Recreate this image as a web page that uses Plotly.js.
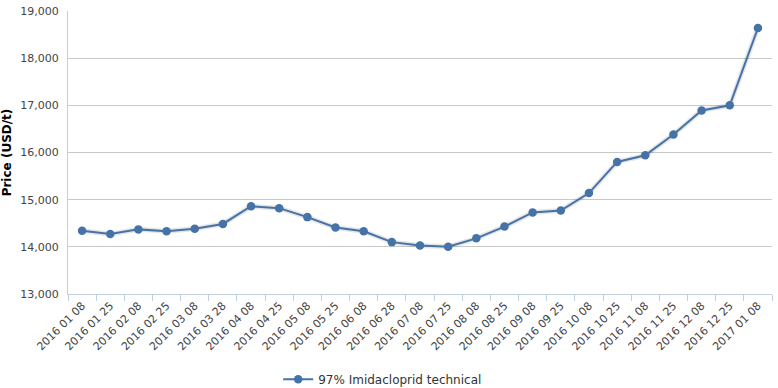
<!DOCTYPE html>
<html>
<head>
<meta charset="utf-8">
<script src="https://cdn.plot.ly/plotly-3.0.1.min.js"></script>
<style>html,body{margin:0;padding:0;background:#fff;}#chart{width:778px;height:388px;}</style>
</head>
<body>
<div id="chart"></div>
<script>
const categories = ["2016 01 08","2016 01 25","2016 02 08","2016 02 25","2016 03 08","2016 03 28","2016 04 08","2016 04 25","2016 05 08","2016 05 25","2016 06 08","2016 06 28","2016 07 08","2016 07 25","2016 08 08","2016 08 25","2016 09 08","2016 09 25","2016 10 08","2016 10 25","2016 11 08","2016 11 25","2016 12 08","2016 12 25","2017 01 08"];
const prices = [14340,14270,14370,14330,14385,14485,14860,14820,14630,14410,14330,14100,14030,14000,14180,14430,14730,14770,15140,15800,15940,16380,16890,17000,18640];
const seriesName = "97% Imidacloprid technical";
const yTicks = [13000,14000,15000,16000,17000,18000,19000];
const yTickText = ["13,000","14,000","15,000","16,000","17,000","18,000","19,000"];

const shadow = {
  x: categories, y: prices, type: "scatter", mode: "lines",
  line: {color: "rgba(0,0,0,0.10)", width: 5},
  hoverinfo: "skip", showlegend: false
};
const main = {
  x: categories, y: prices, type: "scatter", mode: "lines+markers",
  name: seriesName,
  line: {color: "#4572A7", width: 2},
  marker: {color: "#4572A7", size: 8.5}
};
const layout = {
  width: 778, height: 388,
  margin: {l: 68, r: 6, t: 11, b: 94, autoexpand: false},
  paper_bgcolor: "#fff", plot_bgcolor: "#fff",
  font: {family: "DejaVu Sans, Verdana, sans-serif", size: 11, color: "#444"},
  showlegend: true,
  legend: {orientation: "h", x: 0.447, xanchor: "center", y: -0.25, yanchor: "top", yref: "paper",
           font: {size: 12, color: "#333"}},
  xaxis: {
    type: "category", tickangle: -45, ticks: "outside", tickson: "boundaries",
    ticklen: 6, tickcolor: "#C0D0E0", showline: true, linecolor: "#C0D0E0", linewidth: 1,
    showgrid: false, zeroline: false, tickfont: {size: 11, color: "#444"},
    automargin: false,
    range: [-0.5, categories.length - 0.5]
  },
  yaxis: {
    range: [13000, 19000], tickvals: yTicks, ticktext: yTickText,
    showgrid: true, gridcolor: "#C8C8C8", gridwidth: 1, zeroline: false,
    showline: true, linecolor: "#C0D0E0", linewidth: 1, ticks: "",
    ticklabelstandoff: 6, automargin: false,
    tickfont: {size: 11, color: "#444"},
    title: {text: "<b>Price (USD/t)</b>", font: {size: 12, color: "#000"}, standoff: 6}
  }
};
Plotly.newPlot("chart", [shadow, main], layout, {displayModeBar: false, staticPlot: true});
</script>
</body>
</html>
